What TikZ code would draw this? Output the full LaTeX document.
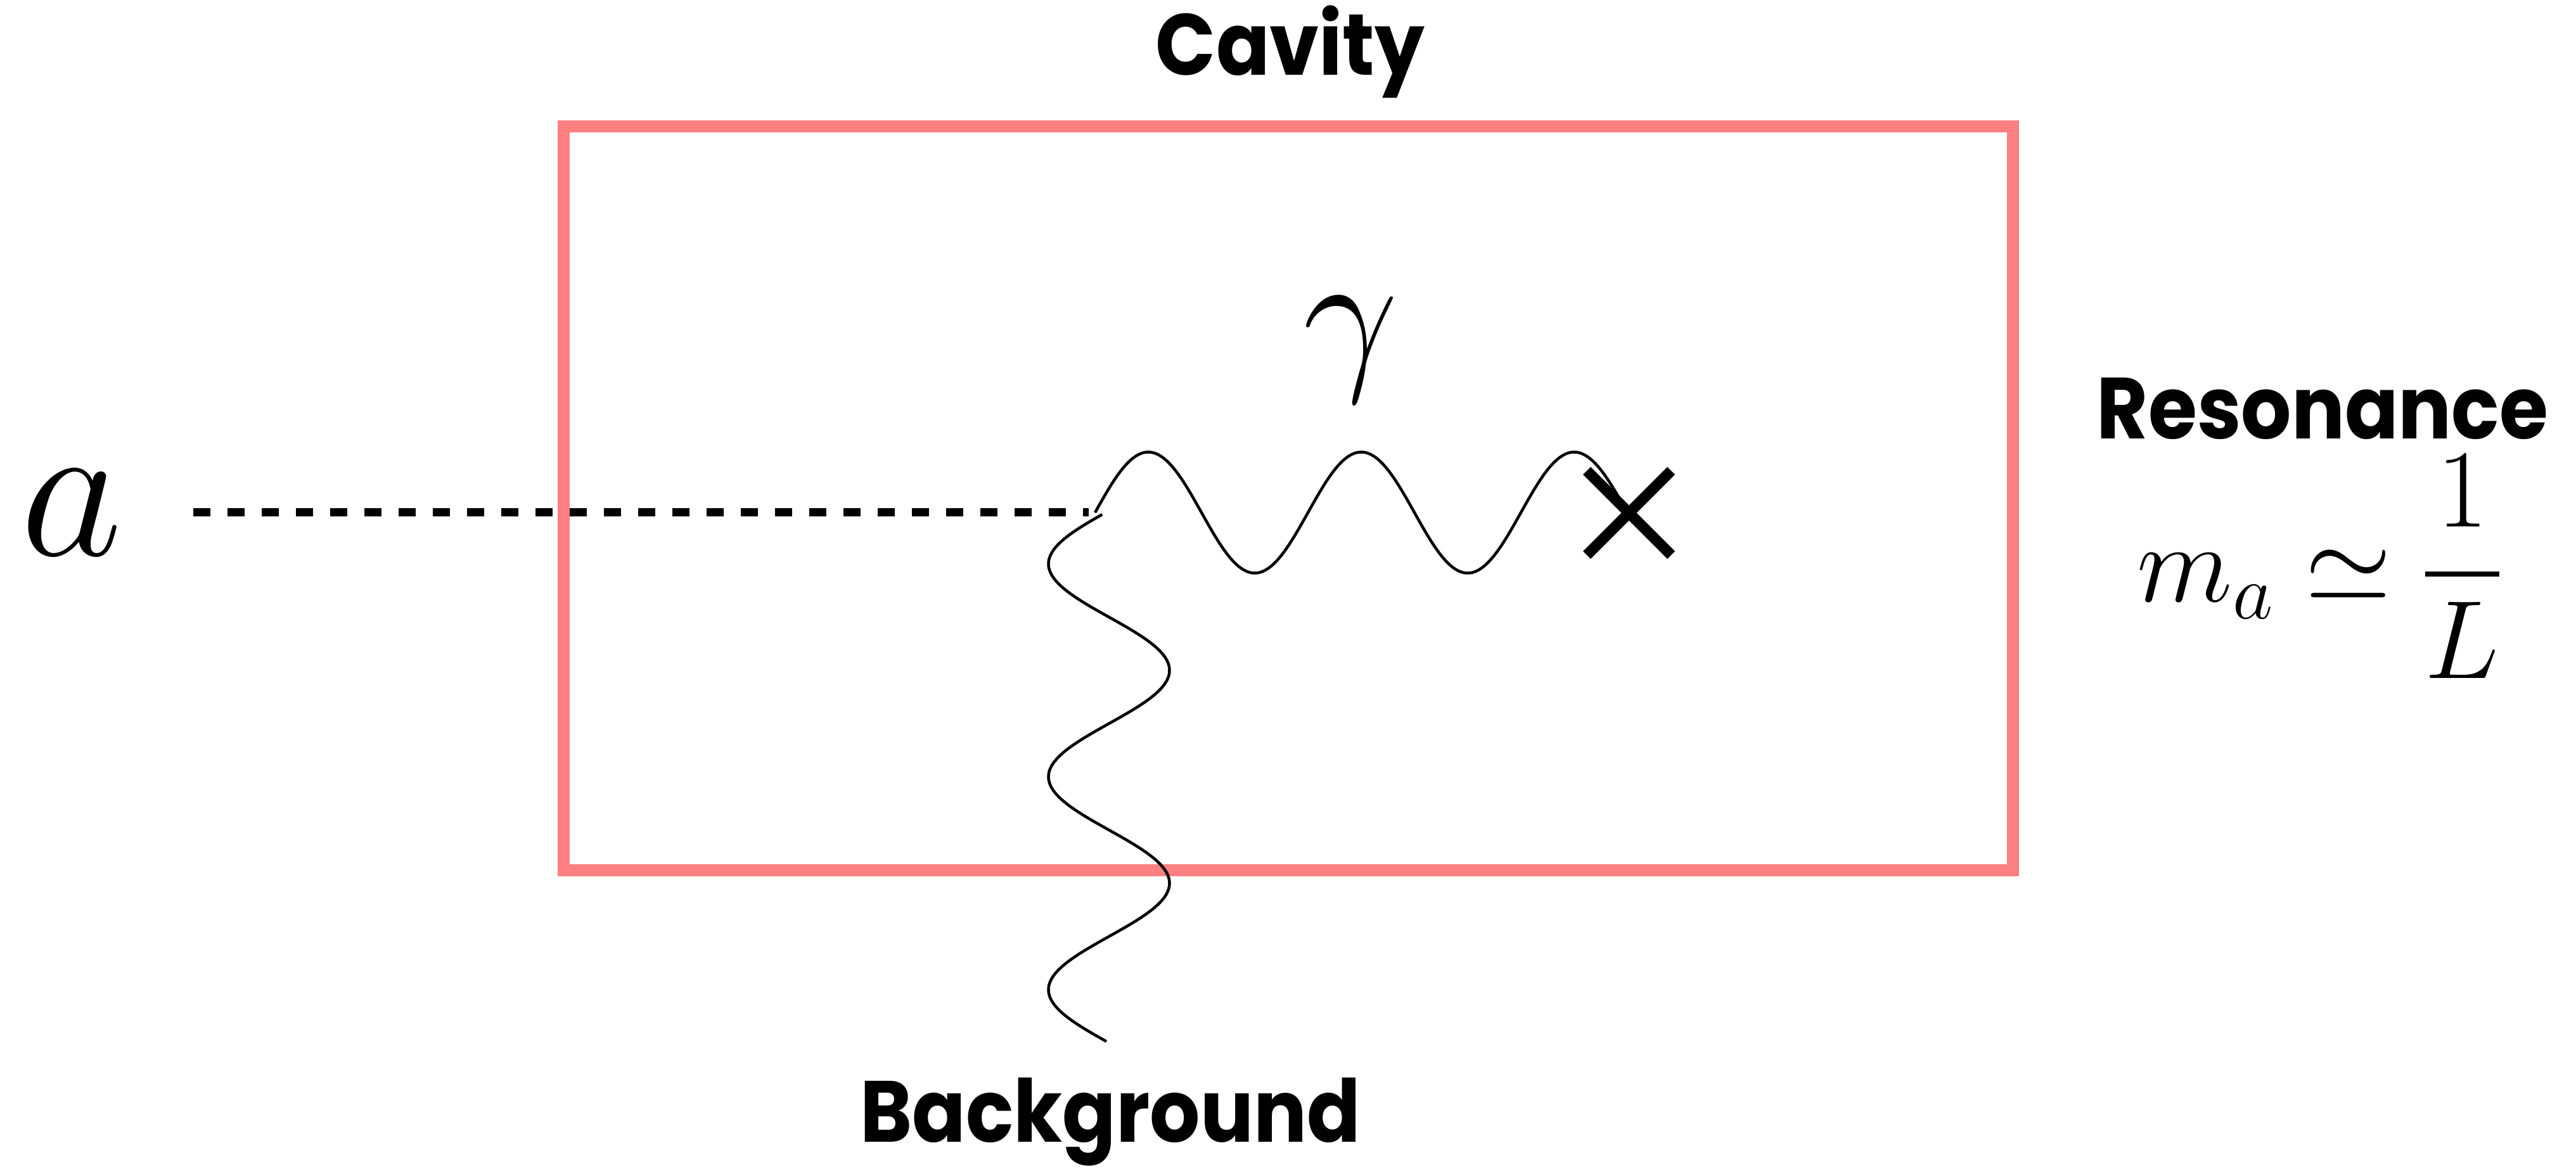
\RequirePackage{fix-cm}
\documentclass[tikz,border=0pt]{standalone}
\usepackage{fontspec}
\usetikzlibrary{calc}
\newfontfamily\labelfont{Poppins}[FakeStretch=0.91]
\definecolor{cavityred}{HTML}{FF8080}
\tikzset{
  lbl/.style={font=\labelfont\bfseries\fontsize{39}{44}\selectfont, inner sep=0pt, anchor=base},
  wave/.style={line width=0.045cm, line join=round},
  axionline/.style={line width=0.13cm, dash pattern=on 0.27cm off 0.27cm},
  crossbar/.style={line width=0.17cm},
  cavitybox/.style={draw=cavityred, line width=0.19cm}
}
\begin{document}
\begin{tikzpicture}
\useasboundingbox (0,0) rectangle (40.65,18.45);
% cavity
\draw[cavitybox] (8.89,4.71) rectangle (31.76,16.45);
\node[lbl] (cavity) at (20.36,17.26) {Cavity};
\node[lbl] (resonance) at (36.65,11.52) {Resonance};
\node[lbl] (background) at (17.52,0.42) {Background};
% axion
\node[inner sep=0pt, anchor=base, font=\fontsize{89}{100}\selectfont] (a) at (1.13,9.68) {$a$};
\coordinate (dstart) at (3.05,10.36);
\coordinate (V) at (17.28,10.36);
\draw[axionline] (dstart) -- (17.18,10.36);
% photon
\draw[wave] plot[domain=17.28:25.70, samples=300] (\x, {10.36+0.955*sin(360*(\x-17.28)/3.36)});
\node[inner sep=0pt, anchor=base, font=\fontsize{76}{90}\selectfont] (gamma) at (21.32,12.61) {$\gamma$};
% background wave
\draw[wave] plot[domain=8.12:16.44, samples=300] ({17.50-0.955*sin(360*(\x-8.06)/3.36)}, {18.45-\x});
% cross
\coordinate (X) at (25.705,10.355);
\draw[crossbar] ($(X)+(-0.665,0.665)$) -- ($(X)+(0.665,-0.665)$);
\draw[crossbar] ($(X)+(-0.665,-0.665)$) -- ($(X)+(0.665,0.665)$);
% formula
\node[inner sep=0pt, anchor=base west, font=\fontsize{50}{60}\selectfont] (formula) at (33.72,8.95) {$\displaystyle m_a \simeq {1 \above 0.075cm L}$};
\end{tikzpicture}
\end{document}
